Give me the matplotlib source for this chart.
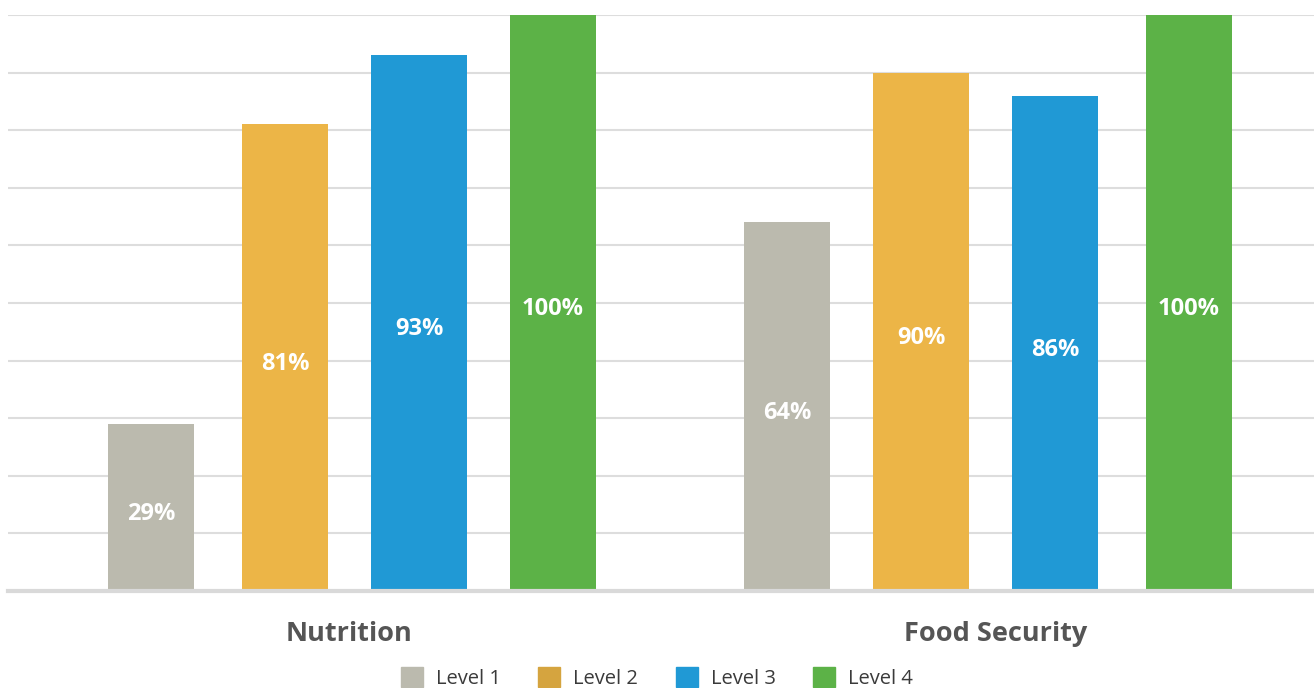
import numpy as np
import matplotlib.pyplot as plt
from matplotlib.patches import Patch

plt.rcParams['font.family'] = ['Open Sans', 'DejaVu Sans']

# data
groups = ['Nutrition', 'Food Security']
levels = ['Level 1', 'Level 2', 'Level 3', 'Level 4']
values = {
    'Level 1': [29, 64],
    'Level 2': [81, 90],
    'Level 3': [93, 86],
    'Level 4': [100, 100],
}

# style
colors = ['#BBBAAE', '#ECB547', '#2099D5', '#5CB247']
legend_colors = ['#BBBAAE', '#D5A43F', '#2099D5', '#5CB247']
widths = [[0.134, 0.134], [0.134, 0.151], [0.151, 0.134], [0.134, 0.134]]
spacing = 0.2107

fig = plt.figure(figsize=(13.14, 6.88), dpi=100)
ax = fig.add_axes([8 / 1314, 97 / 688, 1306 / 1314, 576 / 688])

x = np.arange(len(groups))
for i, lev in enumerate(levels):
    off = (i - 1.5) * spacing
    bars = ax.bar(x + off, values[lev], width=widths[i], color=colors[i], zorder=3)
    for b, v in zip(bars, values[lev]):
        ax.text(b.get_x() + b.get_width() / 2, v / 2 - 1.1, f"{v}%", ha='center', va='center',
                color='white', fontsize=17, fontweight='bold', zorder=4)

ax.set_xlim(-0.541, 1.5126)
ax.set_ylim(0, 100)
ax.set_yticks(np.arange(0, 101, 10))
ax.yaxis.grid(True, color='#DDDDDD', linewidth=1.5, zorder=0)
ax.tick_params(left=False, bottom=False, labelleft=False, labelbottom=False)
for s in ['top', 'right', 'left']:
    ax.spines[s].set_visible(False)
ax.spines['bottom'].set_color('#D9D9D9')
ax.spines['bottom'].set_linewidth(3)
ax.spines['bottom'].set_zorder(5)

label_shift = [-0.005, 0.012]
for xi, g, sh in zip(x, groups, label_shift):
    ax.text(xi + sh, -7.4, g, ha='center', va='center', fontsize=19.5, fontweight='bold',
            color='#555555', clip_on=False)

handles = [Patch(color=c, label=l) for c, l in zip(legend_colors, levels)]
fig.legend(handles=handles, loc='center', bbox_to_anchor=(0.5, 10 / 688), ncol=4,
           frameon=False, handlelength=1.1, handleheight=1.1,
           columnspacing=1.85, handletextpad=0.65, labelcolor='#3A3A3A',
           prop={'family': ['Open Sans', 'DejaVu Sans'], 'size': 14.5})

fig.savefig('out.png', dpi=100)
